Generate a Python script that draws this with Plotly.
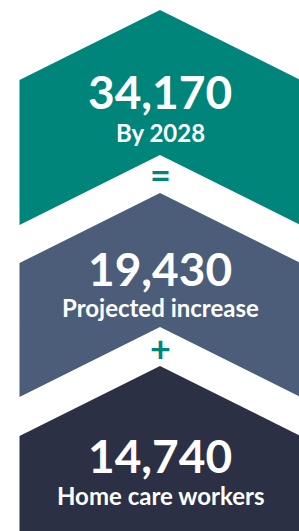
import plotly.graph_objects as go

# ---- data ----
values = [34170, 19430, 14740]
labels = ["By 2028", "Projected increase", "Home care workers"]
operators = ["=", "+"]
colors = ["#00857B", "#4B5D78", "#2B3044"]
op_color = "#00857B"

# ---- geometry (px in canvas coords) ----
W, H = 299, 531
cx, half, rise = 160, 140.5, 70
tops = [10, 193, 366]
bottoms = [225, 397, 540]          # bottom of left/right edges
notched = [True, True, False]
value_y = [91, 268, 455]
label_y = [132, 307, 495]
op_y = [174, 348]

fig = go.Figure()
for i, v in enumerate(values):
    t, b = tops[i], bottoms[i]
    xs = [cx - half, cx, cx + half, cx + half]
    ys = [t + rise, t, t + rise, b]
    if notched[i]:
        xs += [cx, cx - half]
        ys += [b - rise, b]
    else:
        xs += [cx - half]
        ys += [b]
    xs.append(xs[0]); ys.append(ys[0])
    fig.add_trace(go.Scatter(x=xs, y=ys, fill="toself", fillcolor=colors[i],
                             mode="lines", line=dict(width=0, color=colors[i]),
                             hoverinfo="skip", showlegend=False))
    fig.add_annotation(x=cx, y=value_y[i], text=f"{v:,}", showarrow=False,
                       font=dict(family="Lato", size=46, color="white", weight="bold"),
                       xanchor="center", yanchor="middle")
    fig.add_annotation(x=cx, y=label_y[i], text=labels[i], showarrow=False,
                       font=dict(family="Lato", size=24, color="white", weight="bold"),
                       xanchor="center", yanchor="middle")

for j, op in enumerate(operators):
    fig.add_annotation(x=cx, y=op_y[j], text=op, showarrow=False,
                       font=dict(family="Lato", size=36, color=op_color, weight="bold"),
                       xanchor="center", yanchor="middle")

fig.update_layout(width=W, height=H, autosize=False,
                  margin=dict(l=0, r=0, t=0, b=0),
                  paper_bgcolor="white", plot_bgcolor="white",
                  xaxis=dict(range=[0, W], visible=False, fixedrange=True),
                  yaxis=dict(range=[H, 0], visible=False, fixedrange=True))

fig.write_html("out.html", config={"displayModeBar": False},
               post_script="document.body.style.margin='0';")
